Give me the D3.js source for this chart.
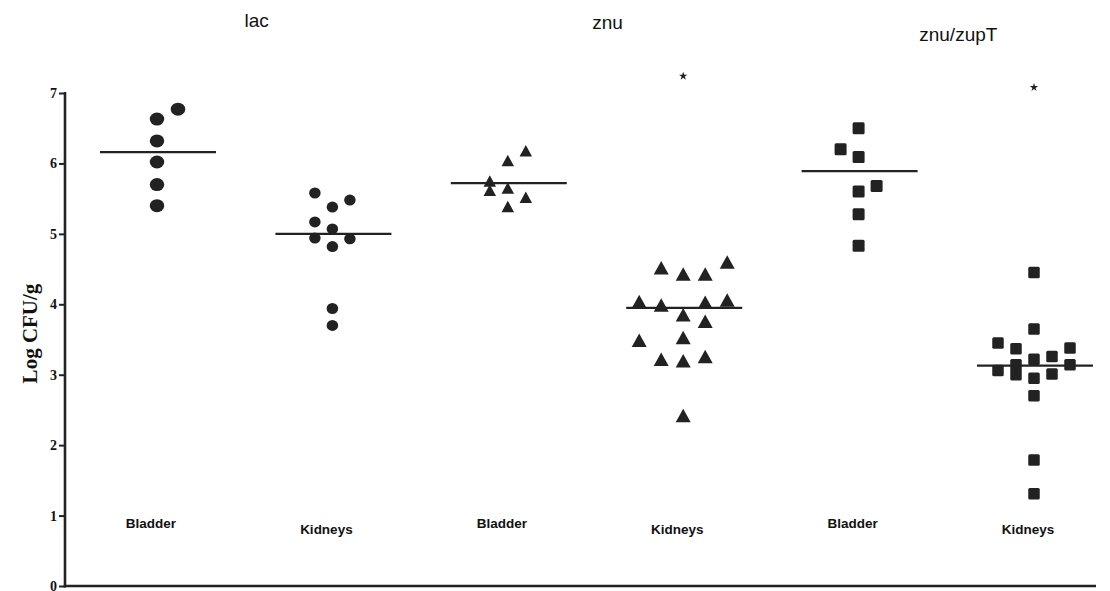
<!DOCTYPE html>
<html>
<head>
<meta charset="utf-8">
<script src="https://cdn.jsdelivr.net/npm/d3@7"></script>
<style>
  html, body { margin: 0; padding: 0; background: #fff; }
  svg { display: block; }
</style>
</head>
<body>
<svg id="chart" width="1110" height="591"></svg>
<script>
// Bacterial load (log CFU per gram) in bladder and kidneys for three strains.
const strains = ["lac", "znu", "znu/zupT"];
const tissues = ["Bladder", "Kidneys"];
const groups = ["lac|Bladder", "lac|Kidneys", "znu|Bladder", "znu|Kidneys", "znu/zupT|Bladder", "znu/zupT|Kidneys"];
const yTicks = [0, 1, 2, 3, 4, 5, 6, 7];

// Individual animals per group
const lacBladder = [6.77, 6.63, 6.32, 6.02, 5.70, 5.40];
const lacKidneys = [5.58, 5.48, 5.38, 5.17, 5.07, 4.94, 4.93, 4.82, 3.94, 3.70];
const znuBladder = [6.18, 6.04, 5.75, 5.62, 5.65, 5.52, 5.39];
const znuKidneys = [4.60, 4.52, 4.43, 4.43, 4.04, 3.99, 4.03, 4.06, 3.85, 3.76, 3.49, 3.53, 3.22, 3.20, 3.26, 2.42];
const zupTBladder = [6.50, 6.20, 6.09, 5.68, 5.60, 5.28, 4.83];
const zupTKidneys = [4.45, 3.65, 3.45, 3.37, 3.38, 3.26, 3.22, 3.14, 3.06, 3.14, 3.00, 3.01, 2.95, 2.70, 1.79, 1.31];

// Column slot of each point in the dot plot (0 = centre column)
const lacBladderCol = [1, 0, 0, 0, 0, 0];
const lacKidneysCol = [-1, 1, 0, -1, 0, -1, 1, 0, 0, 0];
const znuBladderCol = [1, 0, -1, -1, 0, 1, 0];
const znuKidneysCol = [2, -1, 0, 1, -2, -1, 1, 2, 0, 1, -2, 0, -1, 0, 1, 0];
const zupTBladderCol = [0, -1, 0, 1, 0, 0, 0];
const zupTKidneysCol = [0, 0, -2, -1, 2, 1, 0, 2, -2, -1, -1, 1, 0, 0, 0, 0];

// Group summary lines and significance marks
const centerLines = [6.16, 5.00, 5.72, 3.95, 5.89, 3.13];
const starMarks = [null, null, null, 7.24, null, 7.08];

const seriesValues = [lacBladder, lacKidneys, znuBladder, znuKidneys, zupTBladder, zupTKidneys];
const seriesCols = [lacBladderCol, lacKidneysCol, znuBladderCol, znuKidneysCol, zupTBladderCol, zupTKidneysCol];

// Drawing style per group
const shapes = ["circle", "circle", "triangle", "triangle", "square", "square"];
const markW = [14.5, 11.5, 12.5, 15, 12, 11.5];
const markH = [13, 11, 11.5, 13.5, 12, 11.5];
const colGap = [21, 17.5, 18, 22, 18, 18];
const ink = "#222";

const svg = d3.select("#chart");

const y = d3.scaleLinear().domain([0, 7]).range([586, 93]);
const x = d3.scalePoint().domain(groups).range([157, 1034]);

// Axes
const yAxis = d3.axisLeft(y).tickValues(yTicks).tickSize(6).tickPadding(2).tickFormat(d3.format("d"));
const gy = svg.append("g").attr("transform", "translate(65,0)").call(yAxis);
gy.select(".domain").remove();
gy.selectAll(".tick line").attr("stroke", ink).attr("stroke-width", 2);
gy.selectAll(".tick text")
  .attr("font-family", "'Liberation Serif', 'Times New Roman', serif")
  .attr("font-weight", "bold").attr("font-size", 14).attr("fill", "#111");
svg.append("line").attr("x1", 65).attr("x2", 65).attr("y1", y(7) - 1).attr("y2", y(0) + 1.5)
  .attr("stroke", ink).attr("stroke-width", 2.6);
svg.append("line").attr("x1", 63.7).attr("x2", 1096).attr("y1", y(0)).attr("y2", y(0))
  .attr("stroke", ink).attr("stroke-width", 2.6);

svg.append("text")
  .attr("transform", `translate(37,${(y(0) + y(7)) / 2 - 6}) rotate(-90)`)
  .attr("text-anchor", "middle")
  .attr("font-family", "'Liberation Serif', 'Times New Roman', serif")
  .attr("font-weight", "bold").attr("font-size", 21).attr("fill", "#111")
  .text("Log CFU/g");

// Strain titles above each pair of groups
const titleY = [27, 29, 41];
strains.forEach((s, i) => {
  const cx = (x(`${s}|Bladder`) + x(`${s}|Kidneys`)) / 2 + 12;
  svg.append("text").attr("x", cx).attr("y", titleY[i])
    .attr("text-anchor", "middle")
    .attr("font-family", "'Liberation Sans', Arial, sans-serif")
    .attr("font-size", 19).attr("fill", "#111")
    .text(s);
});

// Tissue labels under each group
groups.forEach((g, i) => {
  const tissue = g.split("|")[1];
  svg.append("text").attr("x", x(g) - 6).attr("y", tissue === "Bladder" ? 528 : 534)
    .attr("text-anchor", "middle")
    .attr("font-family", "'Liberation Sans', Arial, sans-serif")
    .attr("font-weight", "bold").attr("font-size", 13.5).attr("fill", "#111")
    .text(tissue);
});

// Points
groups.forEach((g, i) => {
  const slot = d3.scaleLinear().domain([0, 1]).range([x(g), x(g) + colGap[i]]);
  const pts = seriesValues[i].map((v, k) => ({ v, c: seriesCols[i][k] }));
  const layer = svg.append("g").attr("fill", ink);
  const w = markW[i], h = markH[i];
  if (shapes[i] === "circle") {
    layer.selectAll("ellipse").data(pts).join("ellipse")
      .attr("cx", d => slot(d.c)).attr("cy", d => y(d.v))
      .attr("rx", w / 2).attr("ry", h / 2);
  } else if (shapes[i] === "triangle") {
    layer.selectAll("path").data(pts).join("path")
      .attr("d", d => {
        const cx = slot(d.c), cy = y(d.v);
        return `M${cx},${cy - h / 2}L${cx + w / 2},${cy + h / 2}L${cx - w / 2},${cy + h / 2}Z`;
      });
  } else {
    layer.selectAll("rect").data(pts).join("rect")
      .attr("x", d => slot(d.c) - w / 2).attr("y", d => y(d.v) - h / 2)
      .attr("width", w).attr("height", h).attr("rx", 1.5);
  }
});

// Centre lines
svg.append("g").selectAll("line").data(groups).join("line")
  .attr("x1", g => x(g) - 57).attr("x2", g => x(g) + 59)
  .attr("y1", (g, i) => y(centerLines[i])).attr("y2", (g, i) => y(centerLines[i]))
  .attr("stroke", ink).attr("stroke-width", 2.2);

// Significance stars
svg.append("g").selectAll("path")
  .data(groups.map((g, i) => ({ g, v: starMarks[i] })).filter(d => d.v !== null))
  .join("path")
  .attr("transform", d => `translate(${x(d.g)},${y(d.v)})`)
  .attr("d", d3.symbol().type(d3.symbolStar).size(22))
  .attr("fill", ink);
</script>
</body>
</html>
